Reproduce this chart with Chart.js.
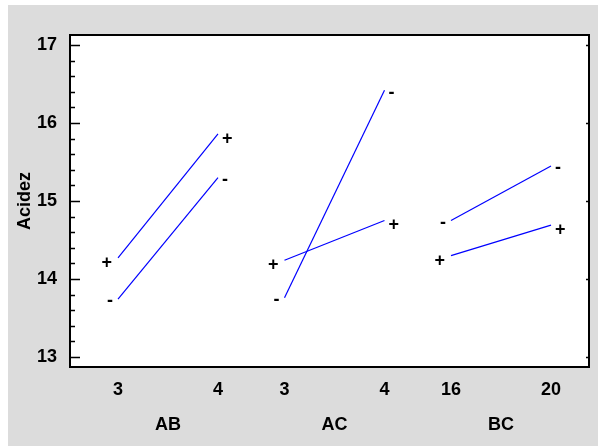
<!DOCTYPE html>
<html><head><meta charset="utf-8">
<script src="https://cdn.jsdelivr.net/npm/chart.js@4.4.1/dist/chart.umd.min.js"></script>
<style>html,body{margin:0;padding:0;background:#fff;}canvas{display:block}</style>
</head><body>
<canvas id="c" width="600" height="446"></canvas>
<script>
// ---- data ----
const factors = ['AB', 'AC', 'BC'];
const levelLabels = [['3', '4'], ['3', '4'], ['16', '20']];
const plusValues = [[14.27, 15.86], [14.24, 14.75], [14.30, 14.69]];
const minusValues = [[13.74, 15.30], [13.76, 16.42], [14.75, 15.45]];
const yTickValues = [13, 14, 15, 16, 17];
const yTitle = 'Acidez';

// ---- layout helpers ----
const GROUP_GAP = 1.665;
const pos = (g, l) => g * GROUP_GAP + l;
const levelPositions = [];
const levelTickLabels = [];
factors.forEach((f, g) => levelLabels[g].forEach((lab, l) => { levelPositions.push(pos(g, l)); levelTickLabels.push(lab); }));
const groupPositions = factors.map((f, g) => pos(g, 0.5));

const datasets = [];
factors.forEach((f, g) => {
  datasets.push({ sign: '+', data: plusValues[g].map((v, l) => ({ x: pos(g, l), y: v })) });
  datasets.push({ sign: '-', data: minusValues[g].map((v, l) => ({ x: pos(g, l), y: v })) });
});
datasets.forEach(d => Object.assign(d, { showLine: true, borderColor: '#0000ff', borderWidth: 1.2, pointRadius: 0, tension: 0, fill: false }));

const FONT = "'Liberation Sans', Arial, Helvetica, sans-serif";
const FS = 18;
Chart.defaults.font.family = FONT;
Chart.defaults.font.size = FS;
Chart.defaults.font.weight = 'bold';
Chart.defaults.color = '#000';

const bgPlugin = {
  id: 'bg',
  beforeDraw(chart) {
    const ctx = chart.ctx, a = chart.chartArea;
    ctx.save();
    ctx.fillStyle = '#ffffff';
    ctx.fillRect(0, 0, chart.width, chart.height);
    ctx.fillStyle = 'rgb(220,220,220)';
    ctx.fillRect(8, 5, 590, 441);
    ctx.fillStyle = '#ffffff';
    ctx.fillRect(a.left, a.top, a.right - a.left, a.bottom - a.top);
    ctx.restore();
  }
};

const framePlugin = {
  id: 'frame',
  afterDraw(chart) {
    const ctx = chart.ctx, a = chart.chartArea, ys = chart.scales.y;
    ctx.save();
    ctx.strokeStyle = '#000';
    ctx.lineWidth = 1.5;
    ctx.beginPath();
    const lo = yTickValues[0], hi = yTickValues[yTickValues.length - 1];
    for (let v = lo; v <= hi + 1e-9; v += 0.2) {
      const isMajor = Math.abs(v - Math.round(v)) < 1e-6;
      const py = Math.round(ys.getPixelForValue(v)) + 0.5;
      ctx.moveTo(a.left, py);
      ctx.lineTo(a.left + (isMajor ? 10 : 5), py);
      if (isMajor) { ctx.moveTo(a.right, py); ctx.lineTo(a.right - 3, py); }
    }
    ctx.stroke();
    ctx.lineWidth = 2;
    ctx.strokeRect(a.left, a.top, a.right - a.left, a.bottom - a.top);
    ctx.restore();
  }
};

const signPlugin = {
  id: 'signs',
  afterDatasetsDraw(chart) {
    const ctx = chart.ctx;
    ctx.save();
    ctx.fillStyle = '#000';
    ctx.font = 'bold ' + FS + 'px ' + FONT;
    ctx.textBaseline = 'alphabetic';
    chart.data.datasets.forEach((ds, i) => {
      const pts = chart.getDatasetMeta(i).data;
      const plus = ds.sign === '+';
      const dy = plus ? 10 : 7.2;
      ctx.textAlign = 'right';
      ctx.fillText(ds.sign, pts[0].x - (plus ? 6 : 5), pts[0].y + dy);
      ctx.textAlign = 'left';
      ctx.fillText(ds.sign, pts[pts.length - 1].x + 4, pts[pts.length - 1].y + dy);
    });
    ctx.restore();
  }
};

new Chart(document.getElementById('c'), {
  type: 'scatter',
  data: { datasets },
  options: {
    responsive: false,
    animation: false,
    devicePixelRatio: 1,
    layout: { padding: { left: 0, top: 35, right: 11, bottom: 0 } },
    plugins: { legend: { display: false }, tooltip: { enabled: false } },
    scales: {
      x: {
        type: 'linear', position: 'bottom', weight: 0,
        min: -0.48, max: 4.71, bounds: 'data',
        grid: { display: false, drawTicks: false, tickLength: 0 },
        border: { display: false },
        afterBuildTicks: s => { s.ticks = levelPositions.map(v => ({ value: v })); },
        ticks: { padding: 12, autoSkip: false, maxRotation: 0, callback: (v, i) => levelTickLabels[i] },
        afterFit: s => { s.height = 40; }
      },
      x2: {
        type: 'linear', position: 'bottom', weight: 1,
        min: -0.48, max: 4.71, bounds: 'data',
        grid: { display: false, drawTicks: false, tickLength: 0 },
        border: { display: false },
        afterBuildTicks: s => { s.ticks = groupPositions.map(v => ({ value: v })); },
        ticks: { padding: 7, autoSkip: false, maxRotation: 0, callback: (v, i) => factors[i] },
        afterFit: s => { s.height = 39; }
      },
      y: {
        type: 'linear', position: 'left',
        min: 12.87, max: 17.13, bounds: 'data',
        grid: { display: false, drawTicks: false, tickLength: 0 },
        border: { display: false },
        afterBuildTicks: s => { s.ticks = yTickValues.map(v => ({ value: v })); },
        ticks: { padding: 13, autoSkip: false, callback: v => String(v) },
        title: { display: true, text: yTitle, padding: { top: 14, bottom: 0 }, font: { size: FS, weight: 'bold' } },
        afterFit: s => { s.width = 70; }
      }
    }
  },
  plugins: [bgPlugin, framePlugin, signPlugin]
});
</script>
</body></html>
